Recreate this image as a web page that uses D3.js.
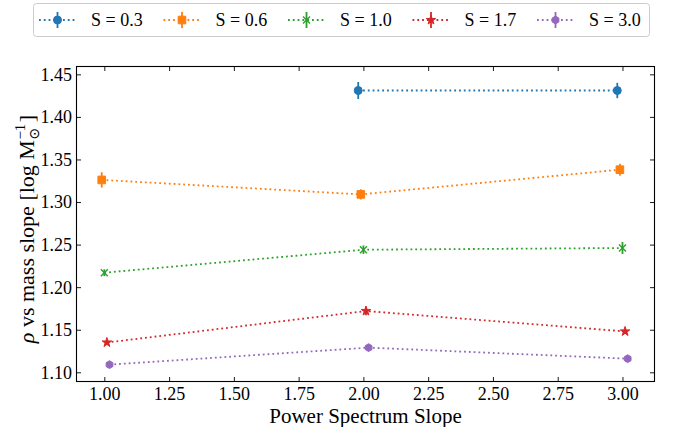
<!DOCTYPE html>
<html>
<head>
<meta charset="utf-8">
<script src="https://cdn.jsdelivr.net/npm/d3@7"></script>
<style>
  body { margin: 0; background: #fff; }
  svg { display: block; }
</style>
</head>
<body>
<svg id="chart" width="673" height="427"></svg>
<script>
// ---- data -------------------------------------------------------------
const seriesLabels = ["S = 0.3", "S = 0.6", "S = 1.0", "S = 1.7", "S = 3.0"];

// power-spectrum slope (slightly dodged per series) and measured value ± error
const xS03 = [1.98, 2.98];
const yS03 = [1.431, 1.431];
const eS03 = [0.010, 0.009];

const xS06 = [0.99, 1.99, 2.99];
const yS06 = [1.326, 1.309, 1.338];
const eS06 = [0.009, 0.006, 0.007];

const xS10 = [1.00, 2.00, 3.00];
const yS10 = [1.217, 1.244, 1.246];
const eS10 = [0.004, 0.005, 0.007];

const xS17 = [1.01, 2.01, 3.01];
const yS17 = [1.135, 1.172, 1.148];
const eS17 = [0.002, 0.005, 0.003];

const xS30 = [1.02, 2.02, 3.02];
const yS30 = [1.109, 1.129, 1.116];
const eS30 = [0.002, 0.002, 0.002];

const xTickValues = [1.00, 1.25, 1.50, 1.75, 2.00, 2.25, 2.50, 2.75, 3.00];
const yTickValues = [1.10, 1.15, 1.20, 1.25, 1.30, 1.35, 1.40, 1.45];

// ---- styling ----------------------------------------------------------
const colors  = ["#1f77b4", "#ff7f0e", "#2ca02c", "#d62728", "#9467bd"];
const markers = ["circle", "square", "x", "star", "hexagon"];
const SERIF = '"Liberation Serif", "DejaVu Serif", serif';

const series = [
  [xS03, yS03, eS03], [xS06, yS06, eS06], [xS10, yS10, eS10],
  [xS17, yS17, eS17], [xS30, yS30, eS30]
].map(([xs, ys, es], i) => ({
  label: seriesLabels[i], color: colors[i], marker: markers[i],
  points: xs.map((x, j) => ({ x, y: ys[j], e: es[j] }))
}));

const svg = d3.select("#chart");
const plot = { left: 76.5, right: 654.5, top: 66.5, bottom: 381.5 };

const x = d3.scaleLinear().domain([0.8926, 3.1236]).range([plot.left, plot.right]);
const y = d3.scaleLinear().domain([1.0892, 1.4592]).range([plot.bottom, plot.top]);

// ---- marker shapes ----------------------------------------------------
function drawMarker(g, type, color) {
  if (type === "circle") {
    g.append("path").attr("d", d3.symbol().type(d3.symbolCircle).size(50)())
      .attr("fill", color).attr("stroke", color).attr("stroke-width", 1);
  } else if (type === "square") {
    g.append("path").attr("d", d3.symbol().type(d3.symbolSquare).size(58)())
      .attr("fill", color).attr("stroke", color).attr("stroke-width", 1);
  } else if (type === "star") {
    g.append("path").attr("d", d3.symbol().type(d3.symbolStar).size(28)())
      .attr("fill", color).attr("stroke", color).attr("stroke-width", 1)
      .attr("stroke-linejoin", "miter");
  } else if (type === "hexagon") {
    const r = 3.9;
    const pts = d3.range(6).map(k => {
      const a = Math.PI / 2 + k * Math.PI / 3;
      return [r * Math.cos(a), -r * Math.sin(a)];
    });
    g.append("path").attr("d", "M" + pts.join("L") + "Z")
      .attr("fill", color).attr("stroke", color).attr("stroke-width", 1);
  } else if (type === "x") {
    const h = 3.5;
    g.append("path").attr("d", `M${-h},${-h}L${h},${h}M${-h},${h}L${h},${-h}`)
      .attr("fill", "none").attr("stroke", color).attr("stroke-width", 1.4);
  }
}

// ---- axes frame and ticks --------------------------------------------
const tickLen = 4.5;
const axes = svg.append("g");

const xAxisBottom = d3.axisBottom(x).tickValues(xTickValues)
  .tickSize(-tickLen).tickPadding(0).tickFormat(d3.format(".2f"));
const xAxisTop = d3.axisTop(x).tickValues(xTickValues).tickSize(-tickLen).tickFormat("");
const yAxisLeft = d3.axisLeft(y).tickValues(yTickValues)
  .tickSize(-tickLen).tickPadding(0).tickFormat(d3.format(".2f"));
const yAxisRight = d3.axisRight(y).tickValues(yTickValues).tickSize(-tickLen).tickFormat("");

const gxb = axes.append("g").attr("transform", `translate(0,${plot.bottom})`).call(xAxisBottom);
const gxt = axes.append("g").attr("transform", `translate(0,${plot.top})`).call(xAxisTop);
const gyl = axes.append("g").attr("transform", `translate(${plot.left},0)`).call(yAxisLeft);
const gyr = axes.append("g").attr("transform", `translate(${plot.right},0)`).call(yAxisRight);

[gxb, gxt, gyl, gyr].forEach(g => {
  g.select(".domain").remove();
  g.selectAll(".tick line").attr("stroke", "#000").attr("stroke-width", 0.9);
  g.selectAll(".tick text").style("font-family", SERIF)
    .style("font-size", "18px").attr("fill", "#000");
});
gxb.selectAll(".tick text").attr("y", 0).attr("dy", 0)
  .attr("transform", "translate(0,18.5)");
gyl.selectAll(".tick text").attr("x", -4.5).attr("dy", "0.33em");

// ---- series: dotted line, error bars, markers ---------------------------
const line = d3.line().x(d => x(d.x)).y(d => y(d.y));
const dataLayer = svg.append("g");

series.forEach(s => {
  const g = dataLayer.append("g");
  g.append("path").datum(s.points).attr("d", line)
    .attr("fill", "none").attr("stroke", s.color).attr("stroke-width", 1.8)
    .attr("stroke-dasharray", "1.8 3");
  g.selectAll("line.err").data(s.points).join("line").attr("class", "err")
    .attr("x1", d => x(d.x)).attr("x2", d => x(d.x))
    .attr("y1", d => y(d.y - d.e)).attr("y2", d => y(d.y + d.e))
    .attr("stroke", s.color).attr("stroke-width", 1.8);
  s.points.forEach(d => {
    const m = g.append("g").attr("transform", `translate(${x(d.x)},${y(d.y)})`);
    drawMarker(m, s.marker, s.color);
  });
});

// frame on top
svg.append("rect")
  .attr("x", plot.left).attr("y", plot.top)
  .attr("width", plot.right - plot.left).attr("height", plot.bottom - plot.top)
  .attr("fill", "none").attr("stroke", "#000").attr("stroke-width", 1.1);

// ---- axis titles -------------------------------------------------------
svg.append("text")
  .attr("x", (plot.left + plot.right) / 2).attr("y", 422.5)
  .attr("text-anchor", "middle")
  .style("font-family", SERIF).style("font-size", "21px")
  .text("Power Spectrum Slope");

const yl = svg.append("g");
const fs = 22;
const main = yl.append("text").style("font-family", SERIF).style("font-size", fs + "px")
  .attr("x", 0).attr("y", 0);
main.append("tspan").style("font-style", "italic").text("ρ");
main.append("tspan").text(" vs mass slope [log M");
let cur = main.node().getComputedTextLength();
const sup = yl.append("text").style("font-family", SERIF).style("font-size", "15px")
  .attr("x", cur + 0.5).attr("y", -9).text("−1");
const sub = yl.append("text").style("font-family", '"DejaVu Sans", sans-serif').style("font-size", "14px")
  .attr("x", cur + 0.5).attr("y", 5).text("⊙");
cur += Math.max(sup.node().getComputedTextLength(), sub.node().getComputedTextLength()) + 2;
const close = yl.append("text").style("font-family", SERIF).style("font-size", fs + "px")
  .attr("x", cur).attr("y", 0).text("]");
cur += close.node().getComputedTextLength();
yl.attr("transform", `translate(34,${(plot.top + plot.bottom) / 2 + 5}) rotate(-90) translate(${-cur / 2},0)`);

// ---- legend ------------------------------------------------------------
const legend = svg.append("g");
legend.append("rect")
  .attr("x", 33.5).attr("y", 3.5).attr("width", 616).attr("height", 33)
  .attr("rx", 3).attr("fill", "#fff").attr("stroke", "#cccccc").attr("stroke-width", 1);

const entryStart = 39, entryStep = 124.5, handleLen = 37, legendY = 20;
series.forEach((s, i) => {
  const gx = entryStart + i * entryStep;
  const g = legend.append("g").attr("transform", `translate(${gx},${legendY})`);
  g.append("line").attr("x1", 0).attr("x2", handleLen).attr("y1", 0).attr("y2", 0)
    .attr("stroke", s.color).attr("stroke-width", 1.8).attr("stroke-dasharray", "1.8 3");
  g.append("line").attr("x1", handleLen / 2).attr("x2", handleLen / 2)
    .attr("y1", -8).attr("y2", 8).attr("stroke", s.color).attr("stroke-width", 1.8);
  const m = g.append("g").attr("transform", `translate(${handleLen / 2},0)`);
  drawMarker(m, s.marker, s.color);
  g.append("text").attr("x", handleLen + 15).attr("y", 0).attr("dy", "0.35em")
    .style("font-family", SERIF).style("font-size", "18px").text(s.label);
});
</script>
</body>
</html>
